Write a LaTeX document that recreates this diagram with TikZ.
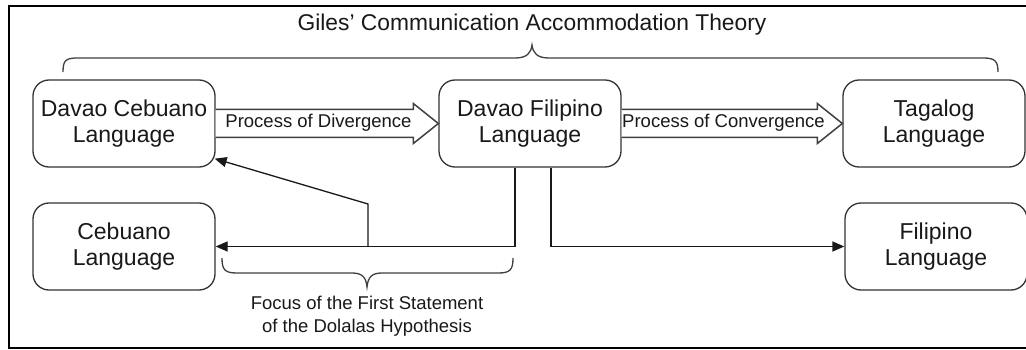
\documentclass[tikz,border=0pt]{standalone}
\usepackage{fontspec}
\setmainfont{Liberation Sans}
\usetikzlibrary{calc,arrows.meta}
\begin{document}
\begin{tikzpicture}[x=1pt,y=-1pt,
 lang/.style={draw=black!80, line width=1.3pt, rounded corners=16pt, minimum width=182pt, minimum height=87pt, inner sep=0pt, align=center, font=\fontsize{23}{26}\selectfont, text=black!90},
 conn/.style={line width=1.3pt, draw=black!90},
 tipend/.style={-{Triangle[length=12pt,width=10pt]}},
 bigarrow/.style={draw=black!75, line width=1.5pt, fill=white, line join=miter},
 lbl/.style={font=\fontsize{18.5}{23}\selectfont, text=black!90, inner sep=0pt},
 ttl/.style={font=\fontsize{22.8}{26}\selectfont, text=black!90, inner sep=0pt},
 bracepath/.style={draw=black!75, line width=1.3pt}]
\useasboundingbox (0,0) rectangle (1026,350);
\clip (0,0) rectangle (1026,350);
\fill[white] (0,0) rectangle (1026,350);
\draw[line width=2pt] (1040,6) -- (9,6) -- (9,348) -- (1040,348);

% nodes
\node[lang] (dc) at (124,123.5) {Davao Cebuano\\Language};
\node[lang] (df) at (530,123.5) {Davao Filipino\\Language};
\node[lang] (tg) at (934,123.5) {Tagalog\\Language};
\node[lang] (cb) at (124,246.5) {Cebuano\\Language};
\node[lang] (fl) at (936,246.5) {Filipino\\Language};

% block arrows
\draw[bigarrow] ($(dc.east)+(0,-14)$) -- ($(df.west)+(-25,-14)$) -- ($(df.west)+(-25,-20)$) -- (df.west) -- ($(df.west)+(-25,20)$) -- ($(df.west)+(-25,14)$) -- ($(dc.east)+(0,14)$);
\draw[bigarrow] ($(df.east)+(0,-14)$) -- ($(tg.west)+(-25,-14)$) -- ($(tg.west)+(-25,-20)$) -- (tg.west) -- ($(tg.west)+(-25,20)$) -- ($(tg.west)+(-25,14)$) -- ($(df.east)+(0,14)$);
\node[lbl] (divl) at (318.5,123) {Process of Divergence};
\node[lbl] (conl) at (723.5,123) {Process of Convergence};

% connectors
\coordinate (dfl) at ($(df.south)+(-15,0)$);
\coordinate (dfr) at ($(df.south)+(21,0)$);
\coordinate (mid) at (368,246.5);
\coordinate (bend) at (368,204);
\coordinate (dctip) at ($(dc.south east)+(-1,-9)$);
\draw[conn,tipend] (dfl) |- (cb.east);
\draw[conn,tipend] (mid) -- (bend) -- (dctip);
\draw[conn,tipend] (dfr) |- (fl.west);

% top brace and title
\draw[bracepath] (63,72) .. controls (63,60) and (66,58) .. (78,58) -- (515,58) .. controls (527,58) and (531,53) .. (532,45) .. controls (533,53) and (537,58) .. (549,58) -- (983,58) .. controls (995,58) and (998,61) .. (998,72);
\node[ttl] (title) at (532,25) {Giles' Communication Accommodation Theory};

% bottom brace and label
\draw[bracepath] (222,258) .. controls (222,270) and (225,273) .. (237,273) -- (352,273) .. controls (362,273) and (366,277) .. (367,287) .. controls (368,277) and (372,273) .. (382,273) -- (498,273) .. controls (510,273) and (513,270) .. (513,258);
\node[lbl, align=center] (focus) at (367,316.5) {Focus of the First Statement\\of the Dolalas Hypothesis};
\end{tikzpicture}
\end{document}
